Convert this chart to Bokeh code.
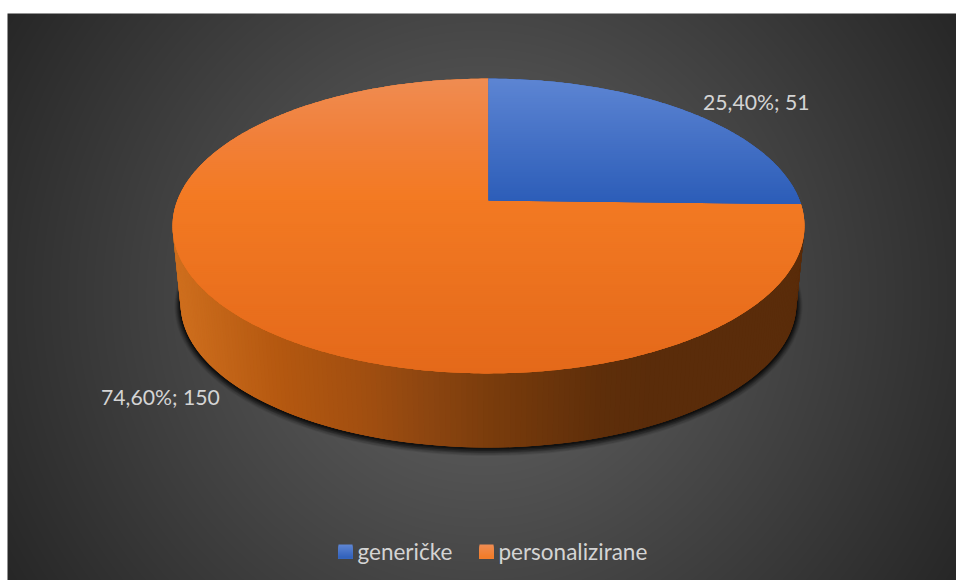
import math
import numpy as np
from bokeh.plotting import figure
from bokeh.models import Range1d
from bokeh.core.properties import value
from bokeh.embed import file_html
from bokeh.resources import INLINE

categories = ["generičke", "personalizirane"]
counts = [51, 150]
percents = [25.40, 74.60]
start_colors = ["#5d85d3", "#ef8c52"]
mid_colors = ["#2c5db8", "#f37a23"]

W, H = 956, 580
p = figure(width=W, height=H, x_range=Range1d(0, W), y_range=Range1d(H, 0),
           output_backend="svg", toolbar_location=None, min_border=0, border_fill_color="white",
           background_fill_color="white", outline_line_color=None)
p.axis.visible = False
p.grid.visible = False

def hex2rgb(h):
    return np.array([int(h[i:i + 2], 16) for i in (1, 3, 5)], float)

def rgb2hex(c):
    return "#%02x%02x%02x" % tuple(int(round(v)) for v in c)

def ramp(v, stops):
    xs = [s[0] for s in stops]
    cs = np.array([hex2rgb(s[1]) for s in stops])
    return rgb2hex([np.interp(v, xs, cs[:, i]) for i in range(3)])

# background radial gradient
BG_X, BG_Y, BG_R = 481, 296, 553
PX0, PY0 = 7, 13
nx, ny = (W - PX0), (H - PY0)
xx, yy = np.meshgrid(PX0 + np.arange(nx) + .5, PY0 + np.arange(ny) + .5)
rr = np.hypot(xx - BG_X, yy - BG_Y)
vv = np.clip(39 + (BG_R - rr) * 0.115, 30, 110).astype(np.uint32)
img = ((255 << 24) | (vv << 16) | (vv << 8) | vv).astype(np.uint32)
p.image_rgba(image=[img], x=PX0, y=PY0, dw=nx, dh=ny)

# geometry of the pie
CX, CY, RX, RY = 488, 225.5, 316, 147.5
BCY, BRX, BRY = 303, 308, 144
K = 0.1729
PROJ_A, PROJ_B = 311.2, 143
APEX_Y = 200

def project(frac):
    th = 2 * math.pi * frac
    X, Y = math.sin(th), math.cos(th)
    w = 1 + K * Y
    return CX + PROJ_A * X / w, APEX_Y - PROJ_B * Y / w

# shadow
for grow, off, alpha in [(6, 2.5, .08), (5, 2.5, .12), (4, 2, .16), (3, 2, .22), (2, 1.5, .30), (1, 1, .40)]:
    t = np.linspace(0, 2 * np.pi, 240)
    p.patch(CX + (BRX + grow) * np.cos(t), BCY + off + (BRY + grow) * np.sin(t),
            fill_color="black", fill_alpha=alpha, line_color=None)

# side wall: strips overlap the next one so no seam shows
wall_stops = [(175, "#cf6f1e"), (280, "#b45810"), (370, "#a04e10"), (430, "#8c4510"),
              (490, "#7a3c0c"), (600, "#5e2e0a"), (650, "#5a2c0a"), (800, "#5a2c0a")]
wx, wy, wc = [], [], []
N = 180
for i in range(N):
    t0, tm, t1 = math.pi * i / N, math.pi * (i + 1) / N, math.pi * min(i + 3, N) / N
    c0, s0, c1, s1 = math.cos(t0), math.sin(t0), math.cos(t1), math.sin(t1)
    wx.append([CX - RX * c0, CX - RX * c1, CX - BRX * c1, CX - BRX * c0])
    wy.append([CY + RY * s0, CY + RY * s1, BCY + BRY * s1, BCY + BRY * s0])
    wc.append(ramp(CX - (RX + BRX) / 2 * (math.cos(t0) + math.cos(tm)) / 2, wall_stops))
p.patches(wx, wy, fill_color=wc, line_color=None, fill_alpha=1.0)

def clip(poly, y0, y1):
    def cut(pts, y, keep_below):
        out = []
        for i in range(len(pts)):
            a, b = pts[i], pts[(i + 1) % len(pts)]
            ia = a[1] >= y if keep_below else a[1] <= y
            ib = b[1] >= y if keep_below else b[1] <= y
            if ia:
                out.append(a)
            if ia != ib:
                u = (y - a[1]) / (b[1] - a[1])
                out.append((a[0] + u * (b[0] - a[0]), y))
        return out
    pts = cut(poly, y0, True)
    return cut(pts, y1, False) if pts else []

# top face, in gradient bands that overlap
cum = 0
slices = []
for pct in percents:
    slices.append((cum / 100, (cum + pct) / 100))
    cum += pct

ramps = [
    [(78, start_colors[0]), (202, mid_colors[0])],
    [(78, start_colors[1]), (135, "#f1803a"), (195, mid_colors[1]), (373, "#e4691a")],
]
# orange first, so that blue's straight edges sit on top
for idx in (1, 0):
    f0, f1 = slices[idx]
    stops = ramps[idx]
    n = max(2, int(480 * (f1 - f0)))
    poly = [(CX, APEX_Y)] + [project(f0 + (f1 - f0) * i / n) for i in range(n + 1)]
    fx, fy, fc = [[q[0] for q in poly]], [[q[1] for q in poly]], [mid_colors[idx]]
    y = 78
    while y < 374:
        part = clip(poly, y, y + 4)
        if len(part) >= 3:
            fx.append([q[0] for q in part])
            fy.append([q[1] for q in part])
            fc.append(ramp(y + 1, stops))
        y += 2
    p.patches(fx, fy, fill_color=fc, line_color=None, fill_alpha=1.0)

# data labels
def label(i):
    return f"{percents[i]:.2f}".replace(".", ",") + f"%; {counts[i]}"

TXT = "#d4d4d4"
FONT = value("Lato")
p.text([702.5], [101], text=[label(0)], text_color=TXT, text_font=FONT, text_font_size="21.2px",
       text_baseline="middle", text_align="left", text_alpha=1.0)
p.text([100.5], [396], text=[label(1)], text_color=TXT, text_font=FONT, text_font_size="21.2px",
       text_baseline="middle", text_align="left", text_alpha=1.0)

# legend
legend_sq = [338, 479]
legend_tx = [357, 498]
for i, cat in enumerate(categories):
    stops = [(544, start_colors[i]), (558, mid_colors[i])]
    ys = list(range(544, 557))
    p.quad(left=legend_sq[i], right=legend_sq[i] + 14, top=ys, bottom=[558 for y in ys],
           fill_color=[ramp(y, stops) for y in ys], line_color=None, fill_alpha=1.0)
    p.text([legend_tx[i]], [551], text=[cat], text_color=TXT, text_font=FONT, text_font_size="22.5px",
           text_baseline="middle", text_align="left", text_alpha=1.0)

open("out.html", "w").write(file_html(p, INLINE))
